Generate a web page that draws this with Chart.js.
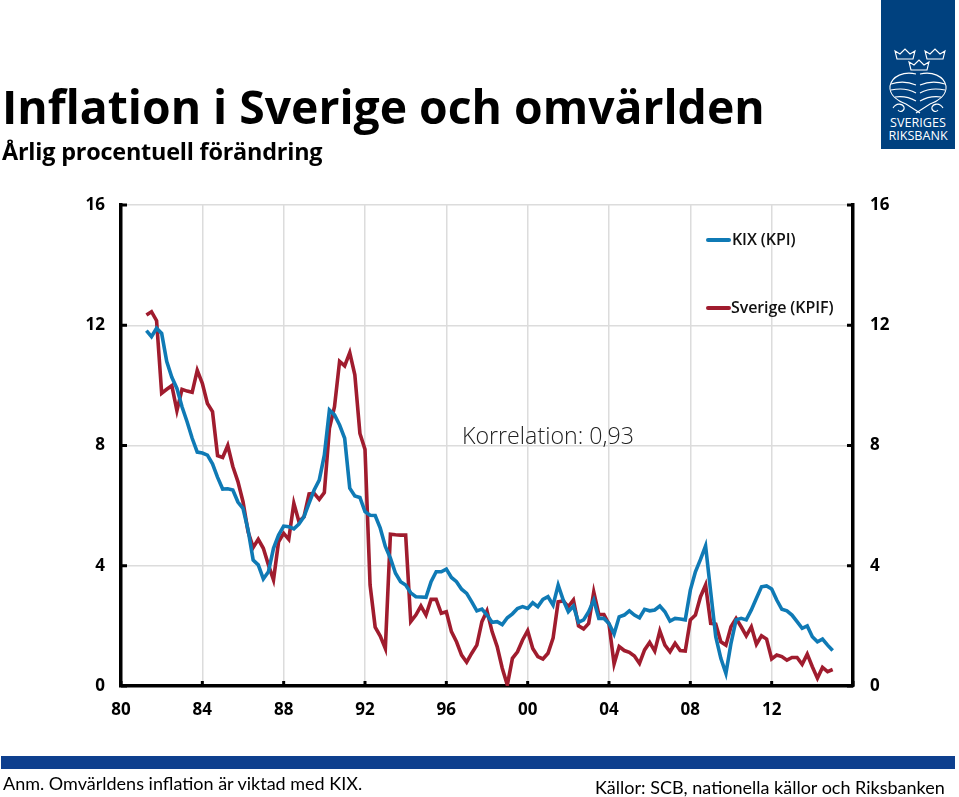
<!DOCTYPE html>
<html lang="sv">
<head>
<meta charset="utf-8">
<title>Inflation i Sverige och omvärlden</title>
<script src="https://cdn.jsdelivr.net/npm/chart.js@4"></script>
<style>
    html, body { margin: 0; padding: 0; background: #fff; }
    body { width: 959px; height: 797px; position: relative; overflow: hidden; font-family: "Open Sans", sans-serif; color: #000; }
    #wrap { position: absolute; left: 0; top: 0; width: 959px; height: 797px; }
    .txt { position: absolute; white-space: nowrap; line-height: 1; }
    #title { left: 2px; top: 84px; font-size: 46.3px; font-weight: 700; }
    #sub { left: 2px; top: 140px; font-size: 23.4px; font-weight: 700; letter-spacing: -0.2px; }
    #corr { left: 462px; top: 424px; font-size: 23.2px; font-weight: 300; color: #222; }
    .leg { font-size: 16px; font-weight: 600; color: #111; letter-spacing: -0.1px; }
    .legline { position: absolute; width: 25px; height: 3.5px; border-radius: 2px; }
    #bar { position: absolute; left: 1px; top: 756px; width: 954px; height: 13px; background: #0e3f8e; }
    #note { left: 3px; top: 774px; font-size: 18px; font-family: Lato, sans-serif; }
    #source { left: 595px; top: 778px; font-size: 18px; font-family: Lato, sans-serif; }
    #logo { position: absolute; left: 881px; top: 0; width: 74px; height: 149px; background: #00417f; color: #fff; }
    #logo div { position: absolute; width: 74px; left: 0; text-align: center; font-size: 12.6px; line-height: 1; }
</style>
</head>
<body>
<div id="wrap"><canvas id="inflationChart" width="959" height="797"></canvas></div>

<div class="txt" id="title">Inflation i Sverige och omvärlden</div>
<div class="txt" id="sub">Årlig procentuell förändring</div>
<div class="txt" id="corr">Korrelation: 0,93</div>

<div class="legline" style="left:706px;top:238px;background:#0f7ab5"></div>
<div class="txt leg" id="leg1" style="left:732px;top:231px"></div>
<div class="legline" style="left:706px;top:306px;background:#a01c2e"></div>
<div class="txt leg" id="leg2" style="left:731px;top:299px"></div>

<div id="bar"></div>
<div class="txt" id="note">Anm. Omvärldens inflation är viktad med KIX.</div>
<div class="txt" id="source">Källor: SCB, nationella källor och Riksbanken</div>

<div id="logo">
    <svg width="74" height="118" viewBox="0 0 74 118" style="position:absolute;left:0;top:0" fill="none" stroke="#fff" stroke-width="1.1">
        <path d="M16 59l-2-8 5 3 5-5 5 5 5-3-2 8z"/>
        <path d="M46 59l-2-8 5 3 5-5 5 5 5-3-2 8z"/>
        <path d="M30 70l-2-8 5 3 5-5 5 5 5-3-2 8z"/>
        <path d="M35 74c-12-3-24 2-26 12-1 9 8 15 16 18l14 9"/>
        <path d="M39 74c12-3 24 2 26 12 1 9-8 15-16 18l-14 9"/>
        <path d="M10 84c9-3 18-2 25 1 M10 90c9-2 18-1 25 3 M14 97c7-1 14 0 21 4"/>
        <path d="M39 85c7-3 16-4 25-1 M39 93c7-4 16-5 25-3 M39 101c7-4 14-5 21-4"/>
        <path d="M12 108c3-5 9-5 11-1 1 4-4 6-6 3 M62 108c-3-5-9-5-11-1-1 4 4 6 6 3"/>
    </svg>
    <div style="top:117px">SVERIGES</div>
    <div style="top:130px">RIKSBANK</div>
</div>

<script>
// Kvartalsdata, forsta punkt 1981 kv 2
const firstQuarter = 1981.25;

const kixValues = [
    11.82, 11.62, 11.9, 11.73, 10.79, 10.27, 9.9, 9.29, 8.79, 8.24, 7.78, 7.75,
    7.68, 7.39, 6.94, 6.55, 6.56, 6.52, 6.12, 5.91, 5.19, 4.19, 4.03, 3.56,
    3.8, 4.58, 5.02, 5.32, 5.3, 5.23, 5.39, 5.63, 6.08, 6.52, 6.85, 7.68,
    9.18, 9.02, 8.68, 8.24, 6.58, 6.32, 6.27, 5.8, 5.68, 5.67, 5.25, 4.64,
    4.25, 3.75, 3.47, 3.36, 3.1, 2.97, 2.96, 2.95, 3.47, 3.8, 3.8, 3.89,
    3.61, 3.47, 3.22, 3.08, 2.8, 2.5, 2.56, 2.36, 2.12, 2.14, 2.04, 2.27,
    2.4, 2.58, 2.64, 2.58, 2.77, 2.64, 2.88, 2.97, 2.69, 3.36, 2.86, 2.47,
    2.66, 2.12, 2.2, 2.47, 2.86, 2.25, 2.25, 2.08, 1.73, 2.3, 2.36, 2.5,
    2.36, 2.27, 2.55, 2.5, 2.53, 2.66, 2.47, 2.16, 2.25, 2.23, 2.2, 3.19,
    3.8, 4.21, 4.66, 3.14, 1.64, 0.92, 0.42, 1.42, 2.2, 2.25, 2.2, 2.53,
    2.92, 3.3, 3.33, 3.23, 2.86, 2.55, 2.5, 2.36, 2.14, 1.92, 2.0, 1.64,
    1.47, 1.56, 1.36, 1.18
];

const swedenValues = [
    12.34, 12.45, 12.15, 9.74, 9.87, 9.99, 9.16, 9.87, 9.81, 9.77, 10.5, 10.07,
    9.4, 9.13, 7.66, 7.6, 8.0, 7.3, 6.8, 6.13, 5.13, 4.61, 4.88, 4.58,
    4.03, 3.53, 4.8, 5.08, 4.88, 6.08, 5.47, 5.63, 6.39, 6.41, 6.21, 6.43,
    8.57, 9.29, 10.8, 10.65, 11.09, 10.35, 8.4, 7.87, 3.36, 1.96, 1.66, 1.25,
    5.05, 5.03, 5.02, 5.02, 2.14, 2.36, 2.66, 2.36, 2.88, 2.88, 2.42, 2.47,
    1.81, 1.47, 1.03, 0.79, 1.09, 1.36, 2.14, 2.5, 1.81, 1.31, 0.59, 0.03,
    0.92, 1.14, 1.53, 1.84, 1.25, 0.98, 0.9, 1.09, 1.59, 2.8, 2.83, 2.64,
    2.86, 2.0, 1.9, 2.08, 3.13, 2.38, 2.38, 2.06, 0.73, 1.31, 1.18, 1.12,
    1.0, 0.75, 1.2, 1.45, 1.16, 1.83, 1.36, 1.14, 1.42, 1.18, 1.16, 2.2,
    2.36, 2.97, 3.36, 2.08, 2.06, 1.47, 1.36, 1.97, 2.25, 1.97, 1.67, 1.97,
    1.39, 1.67, 1.56, 0.9, 1.03, 0.98, 0.86, 0.95, 0.95, 0.72, 1.06, 0.64,
    0.26, 0.62, 0.48, 0.55
];

const seriesNames = ['KIX (KPI)', 'Sverige (KPIF)'];
const xTickYears = [1980, 1984, 1988, 1992, 1996, 2000, 2004, 2008, 2012, 2016];
const yTickValues = [0, 4, 8, 12, 16];

document.getElementById('leg1').textContent = seriesNames[0];
document.getElementById('leg2').textContent = seriesNames[1];

function toPoints(values) {
    return values.map((v, i) => ({ x: firstQuarter + i / 4, y: v }));
}

const tickFont = { family: '"Open Sans", sans-serif', size: 17, weight: '700' };

// Korta svarta streck inat fran axlarna
const innerTicks = {
    id: 'innerTicks',
    afterDraw(chart) {
        const { ctx, chartArea, scales } = chart;
        ctx.save();
        ctx.strokeStyle = '#000';
        ctx.lineWidth = 3;
        yTickValues.forEach(v => {
            const y = scales.y.getPixelForValue(v);
            ctx.beginPath();
            ctx.moveTo(chartArea.left, y);
            ctx.lineTo(chartArea.left + 6, y);
            ctx.moveTo(chartArea.right, y);
            ctx.lineTo(chartArea.right - 6, y);
            ctx.stroke();
        });
        xTickYears.forEach(v => {
            const x = scales.x.getPixelForValue(v);
            ctx.beginPath();
            ctx.moveTo(x, chartArea.bottom);
            ctx.lineTo(x, chartArea.bottom - 5);
            ctx.stroke();
        });
        ctx.restore();
    }
};

new Chart(document.getElementById('inflationChart').getContext('2d'), {
    type: 'line',
    data: {
        datasets: [
            { label: seriesNames[0], data: toPoints(kixValues), borderColor: '#0f7ab5', borderWidth: 3.6, pointRadius: 0, tension: 0 },
            { label: seriesNames[1], data: toPoints(swedenValues), borderColor: '#a01c2e', borderWidth: 3.6, pointRadius: 0, tension: 0 }
        ]
    },
    options: {
        responsive: false,
        animation: false,
        layout: { padding: { top: 205, left: 0, right: 0, bottom: 0 } },
        plugins: { legend: { display: false }, tooltip: { enabled: false } },
        scales: {
            x: {
                type: 'linear',
                min: 1980,
                max: 2016,
                afterBuildTicks: axis => { axis.ticks = xTickYears.map(v => ({ value: v })); },
                afterFit: axis => { axis.height = 111; },
                ticks: {
                    autoSkip: false,
                    maxRotation: 0,
                    padding: 14,
                    color: '#000',
                    font: tickFont,
                    callback: v => v === 2016 ? '' : String(v % 100).padStart(2, '0')
                },
                grid: { color: '#dcdcdc', lineWidth: 1.5, drawTicks: false },
                border: { color: '#000', width: 3.5 }
            },
            y: {
                position: 'left',
                min: 0,
                max: 16,
                afterBuildTicks: axis => { axis.ticks = yTickValues.map(v => ({ value: v })); },
                afterFit: axis => { axis.width = 121; },
                ticks: { padding: 16, color: '#000', font: tickFont },
                grid: { color: '#dcdcdc', lineWidth: 1.5, drawTicks: false },
                border: { color: '#000', width: 3.5 }
            },
            yRight: {
                position: 'right',
                min: 0,
                max: 16,
                afterBuildTicks: axis => { axis.ticks = yTickValues.map(v => ({ value: v })); },
                afterFit: axis => { axis.width = 106; },
                ticks: { padding: 17, color: '#000', font: tickFont },
                grid: { drawOnChartArea: false, drawTicks: false },
                border: { color: '#000', width: 3.5 }
            }
        }
    },
    plugins: [innerTicks]
});
</script>
</body>
</html>
